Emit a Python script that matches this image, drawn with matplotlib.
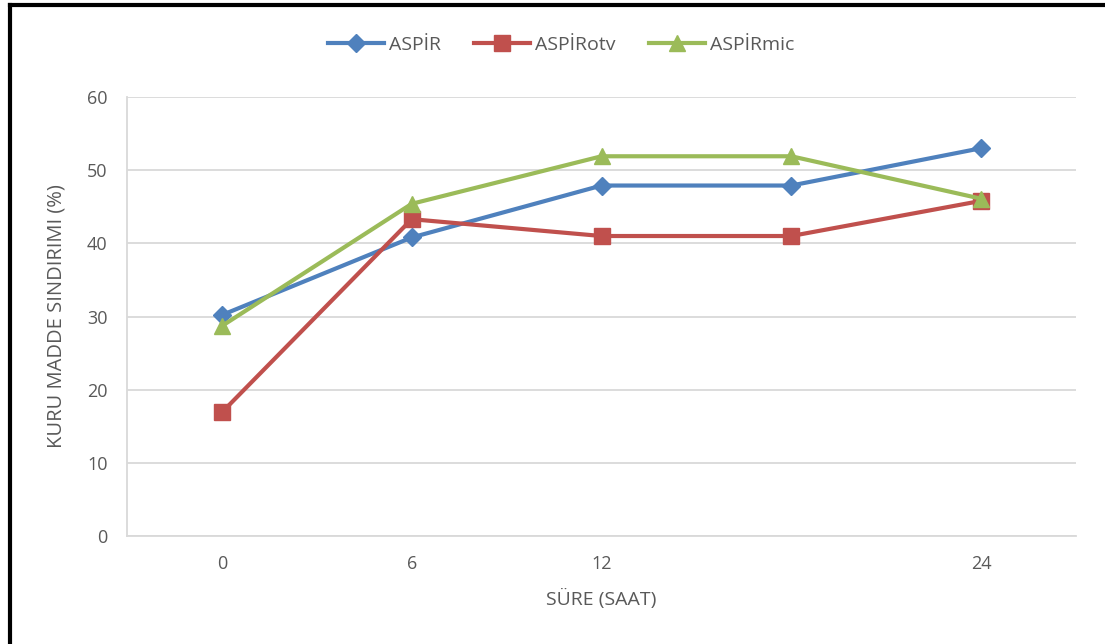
import matplotlib
matplotlib.use("Agg")
import matplotlib.pyplot as plt
from matplotlib.lines import Line2D

categories = ["0", "6", "12", "", "24"]
aspir = [30.2, 40.8, 47.9, 47.9, 53.0]
aspir_otv = [16.9, 43.3, 41.0, 41.0, 45.8]
aspir_mic = [28.7, 45.4, 51.9, 51.9, 46.1]
series_names = ["ASPİR", "ASPİRotv", "ASPİRmic"]
y_ticks = [0, 10, 20, 30, 40, 50, 60]

plt.rcParams['font.family'] = ['Open Sans', 'DejaVu Sans']
TXT = "#595959"

fig = plt.figure(figsize=(11.05, 6.44), dpi=100)
ax = fig.add_axes([127/1105, 1-536/644, (1076-127)/1105, (536-97)/644])

x = list(range(len(categories)))
styles = [
    (aspir, "#4F81BD", "D", 9),
    (aspir_otv, "#C0504D", "s", 11),
    (aspir_mic, "#9BBB59", "^", 12),
]
for (vals, col, mk, ms), name in zip(styles, series_names):
    ax.plot(x, vals, color=col, lw=3, marker=mk, markersize=ms,
            markeredgecolor=col, label=name, zorder=3)

ax.set_xlim(-0.5, len(categories) - 0.5)
ax.set_ylim(0, 60)
ax.set_yticks(y_ticks)
ax.set_xticks(x)
ax.set_xticklabels(categories)
ax.yaxis.grid(True, color="#D9D9D9", lw=1.3)
ax.set_axisbelow(True)
for s in ["top", "right"]:
    ax.spines[s].set_visible(False)
for s in ["left", "bottom"]:
    ax.spines[s].set_color("#D9D9D9")
    ax.spines[s].set_linewidth(1.3)
ax.tick_params(axis="both", length=0, colors=TXT, labelsize=13)
ax.tick_params(axis="y", pad=14)
ax.tick_params(axis="x", pad=14)
ax.set_xlabel("SÜRE (SAAT)", color=TXT, fontsize=14, labelpad=11)
ax.set_ylabel("KURU MADDE SINDIRIMI (%)", color=TXT, fontsize=14.5, labelpad=15)

leg = fig.legend(loc="center", bbox_to_anchor=(561/1105, 1-45/644), ncol=3,
                 frameon=False, fontsize=14, handlelength=2.9,
                 columnspacing=1.7, handletextpad=0.25, labelcolor=TXT)

# outer frame lines (left and top)
fig.add_artist(Line2D([10/1105, 10/1105], [0, 1-5/644], color="black", lw=3,
                      transform=fig.transFigure))
fig.add_artist(Line2D([10/1105, 1], [1-5/644, 1-5/644], color="black", lw=3,
                      transform=fig.transFigure))

fig.savefig("out.png", dpi=100)
